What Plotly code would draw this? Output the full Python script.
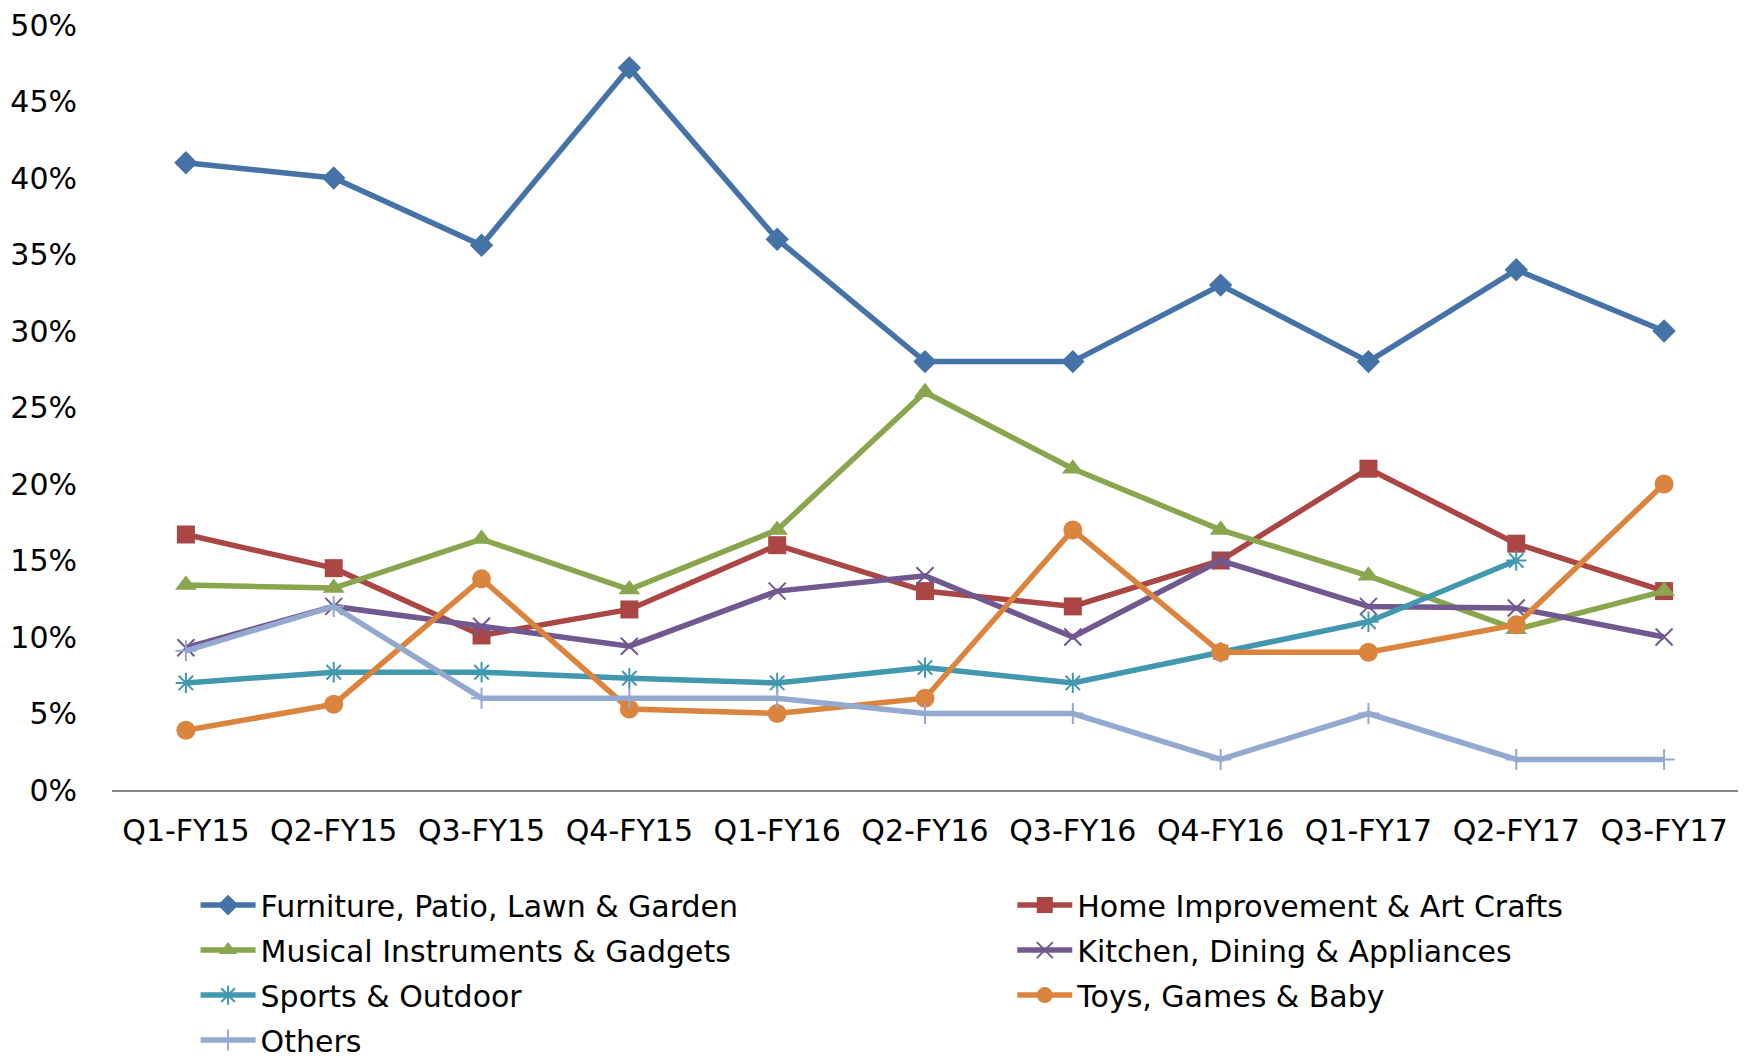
import plotly.graph_objects as go

# --- datos (porcentaje de ventas por categoría) ---
quarters = ["Q1-FY15", "Q2-FY15", "Q3-FY15", "Q4-FY15", "Q1-FY16", "Q2-FY16",
            "Q3-FY16", "Q4-FY16", "Q1-FY17", "Q2-FY17", "Q3-FY17"]

furniture = [41.0, 40.0, 35.6, 47.2, 36.0, 28.0, 28.0, 33.0, 28.0, 34.0, 30.0]
home_improvement = [16.7, 14.5, 10.1, 11.8, 16.0, 13.0, 12.0, 15.0, 21.0, 16.1, 13.0]
musical = [13.4, 13.2, 16.4, 13.1, 17.0, 26.0, 21.0, 17.0, 14.0, 10.5, 13.0]
kitchen = [9.3, 12.0, 10.7, 9.4, 13.0, 14.0, 10.0, 15.0, 12.0, 11.9, 10.0]
sports = [7.0, 7.7, 7.7, 7.3, 7.0, 8.0, 7.0, 9.0, 11.0, 15.0, None]
toys = [3.9, 5.6, 13.8, 5.3, 5.0, 6.0, 17.0, 9.0, 9.0, 10.8, 20.0]
others = [9.1, 12.0, 6.0, 6.0, 6.0, 5.0, 5.0, 2.0, 5.0, 2.0, 2.0]

y_ticks = [0, 5, 10, 15, 20, 25, 30, 35, 40, 45, 50]

FONT = "DejaVu Sans, Century Gothic, sans-serif"

# (nombre, valores, color, símbolo, tamaño, leyenda)
series = [
    ("Furniture, Patio, Lawn & Garden", furniture, "#4572A7", "diamond", 18, "legend"),
    ("Home Improvement & Art Crafts", home_improvement, "#AA4643", "square", 18, "legend2"),
    ("Musical Instruments & Gadgets", musical, "#89A54E", "triangle-up", 19, "legend"),
    ("Kitchen, Dining & Appliances", kitchen, "#71588F", "x-thin-open", 17, "legend2"),
    ("Sports & Outdoor", sports, "#4198AF", "asterisk-open", 17, "legend"),
    ("Toys, Games & Baby", toys, "#DB843D", "circle", 19, "legend2"),
    ("Others", others, "#93A9CF", "cross-thin-open", 15, "legend"),
]

fig = go.Figure()

for name, vals, color, symbol, size, leg in series:
    thin = symbol.endswith("-open")
    fig.add_trace(go.Scatter(
        x=quarters, y=vals, name=name, mode="lines+markers",
        line=dict(color=color, width=5.5),
        marker=dict(symbol=symbol, size=size, color=color,
                    line=dict(color=color, width=2 if thin else 0)),
        legend=leg, legendgroup=name,
    ))

legend_style = dict(
    orientation="v", yanchor="top", y=-0.1165, xanchor="left",
    font=dict(family=FONT, size=30, color="#000000"),
    bgcolor="rgba(0,0,0,0)", itemwidth=55,
    traceorder="grouped", tracegroupgap=3,
)

# la página añade 8 px de margen al cuerpo: se compensa aquí
fig.update_layout(
    width=1744, height=1053,
    margin=dict(l=104, r=14, t=17, b=271, autoexpand=False),
    paper_bgcolor="white", plot_bgcolor="white",
    font=dict(family=FONT, size=30, color="#000000"),
    showlegend=True,
    legend=dict(x=0.0514, **legend_style),
    legend2=dict(x=0.5537, **legend_style),
)

fig.update_xaxes(
    type="category", range=[-0.5, len(quarters) - 0.5],
    showgrid=False, zeroline=False,
    showline=True, linecolor="#868686", linewidth=2,
    ticks="", ticklabelstandoff=13,
    tickfont=dict(family=FONT, size=30, color="#000000"),
)

fig.update_yaxes(
    range=[0, 50], tickvals=y_ticks, ticktext=[f"{v}%" for v in y_ticks],
    showgrid=False, zeroline=False, showline=False, ticks="",
    ticklabelstandoff=34, ticklabeloverflow="allow",
    tickfont=dict(family=FONT, size=30, color="#000000"),
)

fig.write_html("out.html")
